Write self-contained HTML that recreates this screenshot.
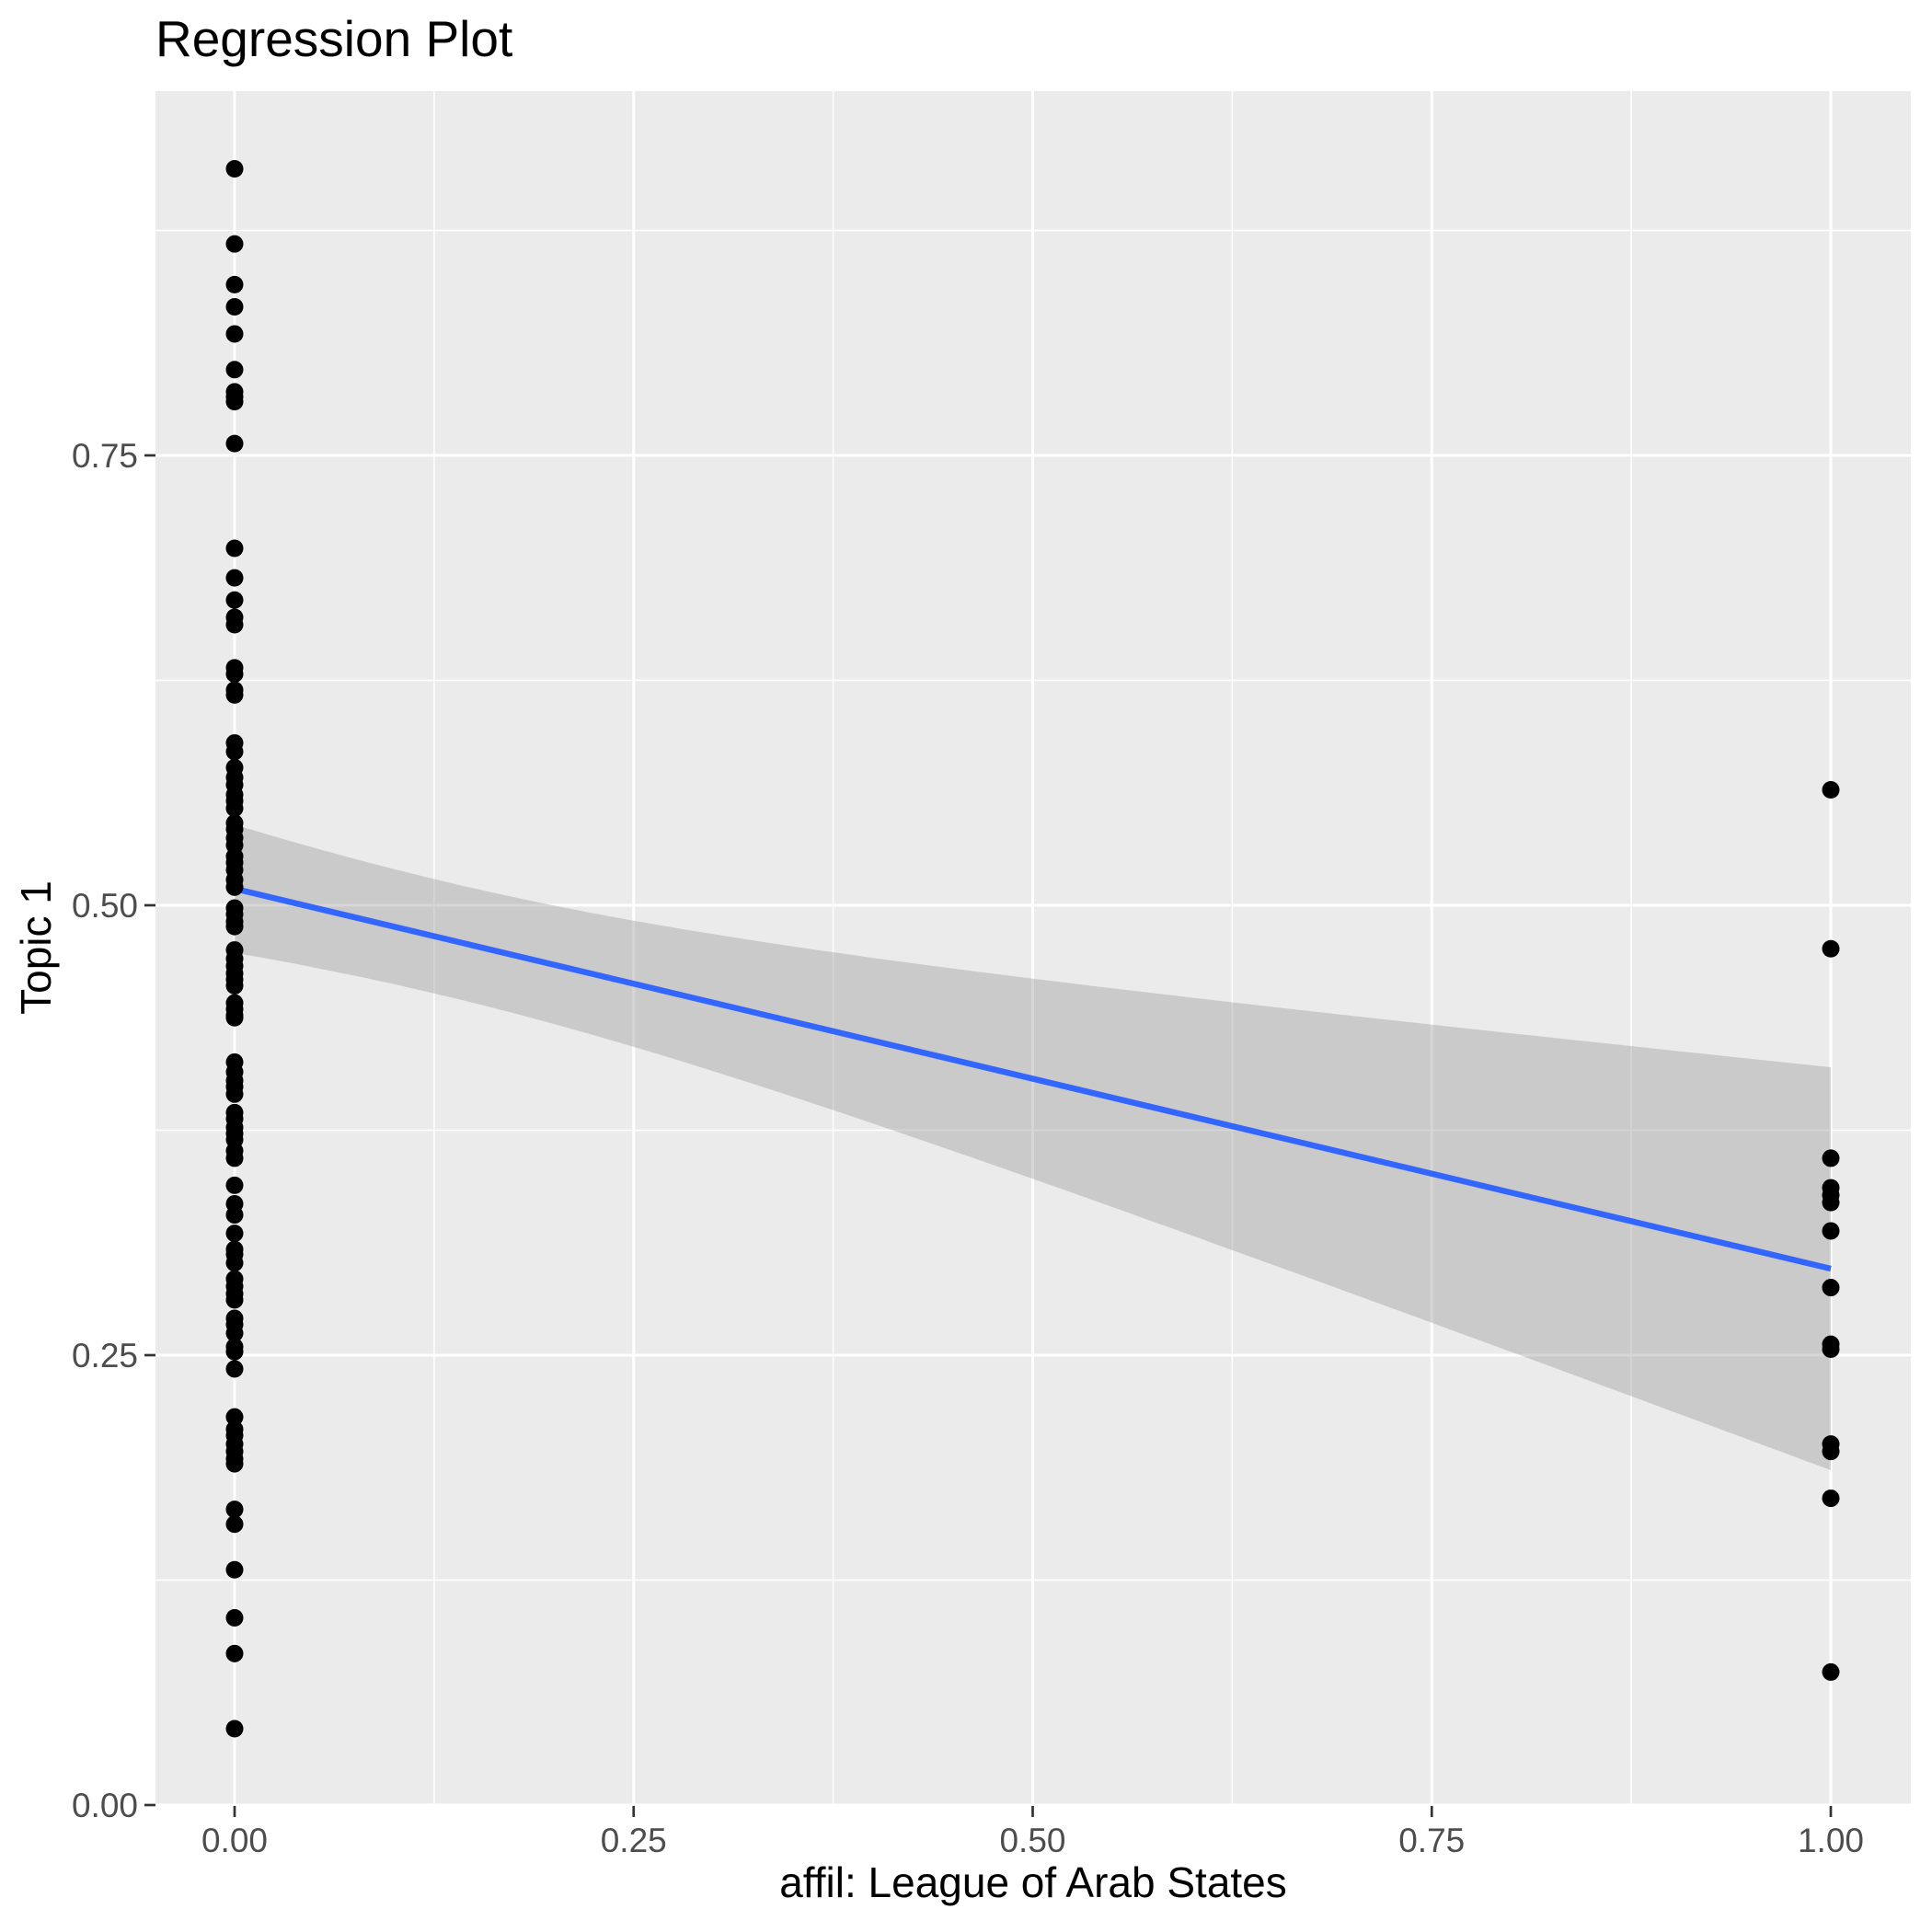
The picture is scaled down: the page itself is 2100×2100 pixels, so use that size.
<!DOCTYPE html>
<html><head><style>html,body{margin:0;padding:0;background:#fff}svg{display:block}</style></head>
<body>
<svg id="s" width="2100" height="2100" xmlns="http://www.w3.org/2000/svg" font-family="Liberation Sans, sans-serif">
<rect x="169" y="99" width="1908" height="1864" fill="#EBEBEB"/>
<g id="grid"></g>
<path id="band" fill="#999999" fill-opacity="0.4"/>
<line x1="255" y1="966" x2="1990" y2="1379" stroke="#3366FF" stroke-width="6.5"/>
<g id="pts" fill="#000"></g>
<g id="ticks" stroke="#333" stroke-width="2.7"></g>
<g id="lbl" fill="#4D4D4D" font-size="37"></g>
<text x="169" y="61" font-size="55" fill="#000">Regression Plot</text>
<text x="1123" y="2062" font-size="46" text-anchor="middle" fill="#000">affil: League of Arab States</text>
<text transform="translate(55,1030) rotate(-90)" font-size="46" text-anchor="middle" fill="#000">Topic 1</text>
</svg>
<script>
var NS="http://www.w3.org/2000/svg";
function el(p,t,a){var e=document.createElementNS(NS,t);for(var k in a)e.setAttribute(k,a[k]);p.appendChild(e);return e;}
function X(v){return 255+v*1735;}function Y(v){return 1962-v*1956;}
var g=document.getElementById('grid');
[0.125,0.375,0.625,0.875].forEach(function(v){el(g,'line',{x1:X(v),x2:X(v),y1:99,y2:1963,stroke:'#fff','stroke-width':1.5});el(g,'line',{x1:169,x2:2077,y1:Y(v),y2:Y(v),stroke:'#fff','stroke-width':1.5});});
[0,0.25,0.5,0.75,1].forEach(function(v){el(g,'line',{x1:X(v),x2:X(v),y1:99,y2:1963,stroke:'#fff','stroke-width':3});});
[0,0.25,0.5,0.75].forEach(function(v){el(g,'line',{x1:169,x2:2077,y1:Y(v),y2:Y(v),stroke:'#fff','stroke-width':3});});
var tk=document.getElementById('ticks'),lb=document.getElementById('lbl');
['0.00','0.25','0.50','0.75','1.00'].forEach(function(s,i){var v=i*0.25;el(tk,'line',{x1:X(v),x2:X(v),y1:1963,y2:1975});var t=el(lb,'text',{x:X(v),y:2013,'text-anchor':'middle'});t.textContent=s;});
['0.00','0.25','0.50','0.75'].forEach(function(s,i){var v=i*0.25;el(tk,'line',{x1:157,x2:169,y1:Y(v),y2:Y(v)});var t=el(lb,'text',{x:150,y:Y(v)+13,'text-anchor':'end'});t.textContent=s;});
var up=[],lo=[];for(var i=0;i<=50;i++){var x=i/50;var c=966+(1379-966)*x;var hw=Math.sqrt(3859+58266*(x-0.13)*(x-0.13));up.push([X(x),c-hw]);lo.push([X(x),c+hw]);}
var d='M'+up.map(function(p){return p[0].toFixed(1)+','+p[1].toFixed(1)}).join('L')+'L'+lo.reverse().map(function(p){return p[0].toFixed(1)+','+p[1].toFixed(1)}).join('L')+'Z';
document.getElementById('band').setAttribute('d',d);
var L=[137,198,231,249,271,300,318,322,326,360,445,469,487,501,507,542,547,560,564,603,610,623,631,637,645,650,656,668,673,680,686,695,700,706,714,720,737,742,748,752,771,778,784,790,795,800,814,819,824,826,862,870,877,882,888,903,908,915,920,925,934,940,962,977,986,1001,1014,1018,1025,1038,1044,1050,1055,1070,1075,1082,1093,1097,1111,1150,1160,1165,1172,1178,1184,1188,1225,1237,1274,1313,1342,1403];
var R=[641,770,940,964,970,976,999,1045,1091,1095,1172,1178,1216,1357];
var pg=document.getElementById('pts');var f=2100/1568;
L.forEach(function(y){el(pg,'circle',{cx:255,cy:y*f,r:9.5});});
R.forEach(function(y){el(pg,'circle',{cx:1990,cy:y*f,r:9.5});});
</script>
</body></html>
